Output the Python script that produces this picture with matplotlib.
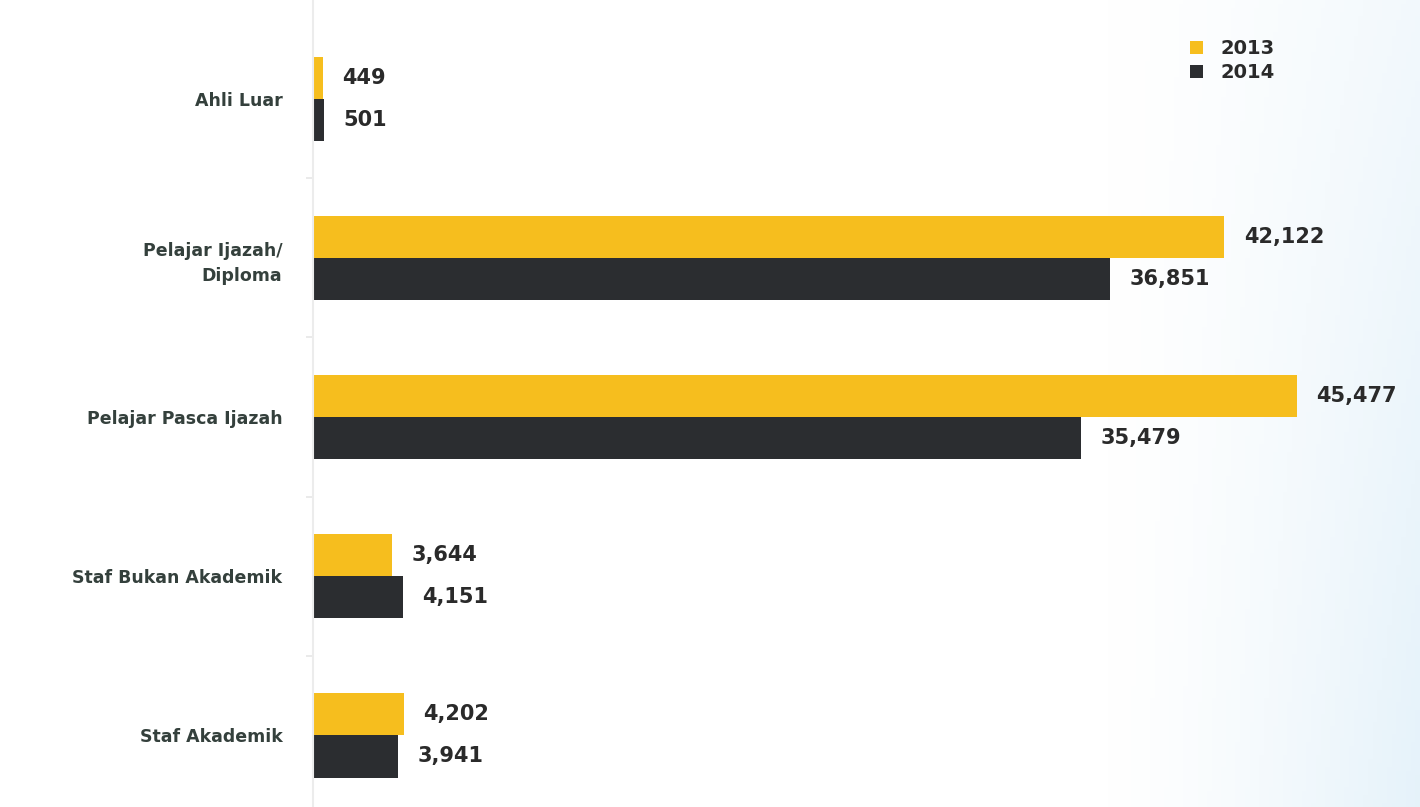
import numpy as np
import matplotlib.pyplot as plt
from matplotlib.patches import Patch

# categories top to bottom
categories = ['Ahli Luar', 'Pelajar Ijazah/\nDiploma', 'Pelajar Pasca Ijazah',
              'Staf Bukan Akademik', 'Staf Akademik']
values_2013 = [449, 42122, 45477, 3644, 4202]
values_2014 = [501, 36851, 35479, 4151, 3941]
series_names = ['2013', '2014']

yellow = '#F6BE1E'
dark = '#2B2D30'

fig = plt.figure(figsize=(14.2, 8.07), dpi=100)

# soft bluish wash on the right side of the page
bg = fig.add_axes([0, 0, 1, 1], zorder=-10)
gx, gy = np.meshgrid(np.linspace(0, 1, 300), np.linspace(0, 1, 200))
wash = np.clip((gx - 0.78) / 0.22, 0, 1) ** 1.3 * (0.5 + 0.5 * gy)
rgb = np.ones((200, 300, 3))
tint = np.array([0.90, 0.95, 0.98])
rgb = rgb * (1 - wash[..., None]) + tint * wash[..., None]
bg.imshow(rgb, aspect='auto', extent=[0, 1, 0, 1], origin='upper')
bg.set_axis_off()

ax = fig.add_axes([313 / 1420, 0, 1 - 313 / 1420, 1])
ax.patch.set_alpha(0)

y = np.arange(len(categories))
h = 0.265
ax.barh(y - h / 2, values_2013, height=h, color=yellow, label=series_names[0])
ax.barh(y + h / 2, values_2014, height=h, color=dark, label=series_names[1])

ax.set_xlim(0, 51160)
ax.set_ylim(4.45, -0.62)

for yi, v in zip(y, values_2013):
    ax.annotate(f'{v:,}', (v, yi - h / 2), xytext=(14, 0), textcoords='offset points',
                va='center', ha='left', fontsize=15, fontweight='bold', color='#2a2a2a')
for yi, v in zip(y, values_2014):
    ax.annotate(f'{v:,}', (v, yi + h / 2), xytext=(14, 0), textcoords='offset points',
                va='center', ha='left', fontsize=15, fontweight='bold', color='#2a2a2a')

ax.set_yticks(y)
ax.set_yticklabels(categories, fontsize=12.5, fontweight='bold', color='#34403c',
                   linespacing=1.5)
ax.tick_params(axis='y', length=0, pad=22)
ax.set_yticks(np.arange(len(categories) - 1) + 0.5, minor=True)
ax.tick_params(axis='y', which='minor', length=5, color='#e6e6e6', width=1.2)
for lbl in ax.get_yticklabels():
    lbl.set_horizontalalignment('right')

ax.set_xticks([])
for s in ['top', 'right', 'bottom']:
    ax.spines[s].set_visible(False)
ax.spines['left'].set_color('#ececec')
ax.spines['left'].set_linewidth(1.5)

handles = [Patch(facecolor=yellow, label=series_names[0]),
           Patch(facecolor=dark, label=series_names[1])]
leg = fig.legend(handles=handles, loc='upper left', bbox_to_anchor=(1172 / 1420, 1 - 22 / 807),
                 frameon=False, handlelength=0.7, handleheight=0.7, handletextpad=0.9,
                 labelspacing=0.25, prop={'size': 14, 'weight': 'bold'})
for t in leg.get_texts():
    t.set_color('#2a2a2a')

fig.savefig('out.png', dpi=100)
